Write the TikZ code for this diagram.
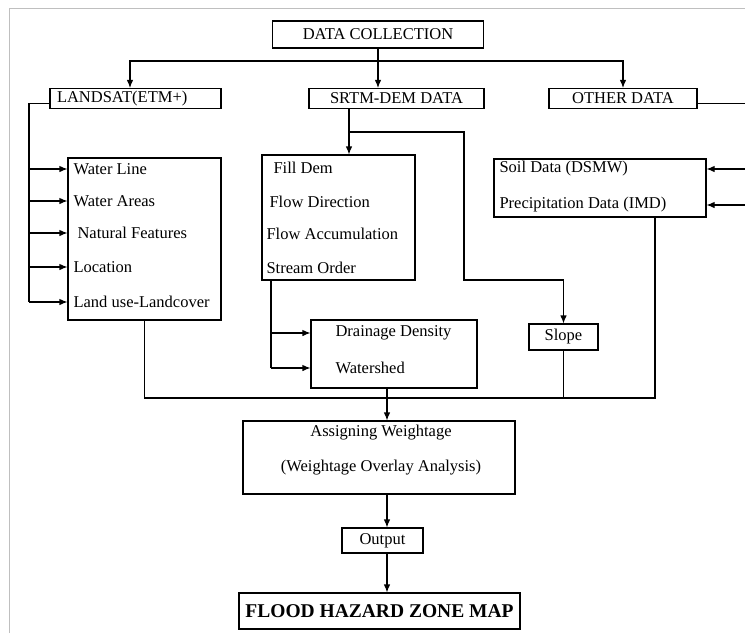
\documentclass[tikz,border=0pt]{standalone}
\usepackage{fontspec}
\setmainfont{Liberation Serif}
\usepackage{tikz}
\usetikzlibrary{positioning,arrows.meta,calc}

\begin{document}
\begin{tikzpicture}[x=1pt, y=-1pt, line width=1.1pt,
    >={Latex[length=8pt,width=6.5pt]},
    every node/.style={font=\fontsize{16.5}{19}\selectfont},
    box/.style={draw, inner sep=0pt},
    entry/.style={anchor=west, inner sep=0pt}]
  \useasboundingbox (0,0) rectangle (745,633);
  \draw[black!25, line width=0.6pt] (9,633) -- (9,8) -- (745,8);

  % sources
  \node[box, minimum width=211pt, minimum height=27pt] (datacol) at (378,34.5) {DATA COLLECTION};
  \node[box, minimum height=20pt, text width=157pt, inner xsep=7pt, align=left, text depth=3pt]
        (landsat) at (135.5,98.5) {LANDSAT(ETM+)};
  \node[box, minimum width=175pt, minimum height=20pt] (srtm) at (396.5,98.5) {SRTM-DEM DATA};
  \node[box, minimum width=148pt, minimum height=20pt] (other) at (623,98.5) {OTHER DATA};

  % landsat layers
  \node[box, minimum width=153pt, minimum height=162pt] (lsbox) at (144.5,239) {};
  \node[entry] (wl) at (73,169) {Water Line};
  \node[entry] (wa) at (73,201) {Water Areas};
  \node[entry] (nf) at (77,233) {Natural Features};
  \node[entry] (loc) at (73,267) {Location};
  \node[entry] (lu) at (73,302) {Land use-Landcover};

  % dem products
  \node[box, minimum width=153pt, minimum height=125pt] (fill) at (338.5,217.5) {};
  \node[entry] (fd) at (273,168) {Fill Dem};
  \node[entry] (fdir) at (269,202) {Flow Direction};
  \node[entry] (facc) at (266,234) {Flow Accumulation};
  \node[entry] (so) at (266,268) {Stream Order};

  \node[box, minimum width=166pt, minimum height=68pt] (drain) at (394,354) {};
  \node[entry] (dd) at (335,333) {Drainage Density};
  \node[entry] (ws) at (335,368) {Watershed};
  \node[box, minimum width=69pt, minimum height=26pt] (slope) at (563.5,337) {Slope};

  % other data
  \node[box, minimum width=212pt, minimum height=58pt] (soil) at (600,188) {};
  \node[entry] (sd) at (499,169) {Soil Data (DSMW)};
  \node[entry] (pd) at (499,205) {Precipitation Data (IMD)};

  % overlay and result
  \node[box, minimum width=272pt, minimum height=73pt] (assign) at (379,457.5) {};
  \node (aw) at (381,433) {Assigning Weightage};
  \node (wo) at (381,468) {(Weightage Overlay Analysis)};
  \node[box, minimum width=81pt, minimum height=25pt] (out) at (382.5,540.5) {Output};
  \node[box, minimum width=281pt, minimum height=36pt,
        font=\bfseries\fontsize{19.5}{22}\selectfont] (flood) at (379.5,611) {FLOOD HAZARD ZONE MAP};

  % connectors
  \coordinate (bus) at (378,61);
  \draw (datacol) -- (bus);
  \draw[->] (bus) -- (bus |- srtm.north);
  \draw[->] (bus) -| ([xshift=-5.5pt]landsat.north);
  \draw[->] (bus) -| (other.north);

  \coordinate (lsrail) at (29,302);
  \draw ([yshift=-5pt]landsat.west) -| (lsrail);
  \foreach \e in {wl,wa,nf,loc,lu}
    \draw[->] (lsrail |- \e) -- (lsbox.west |- \e);

  \coordinate (split) at (349,132);
  \coordinate (bend) at (464,280);
  \draw (split |- srtm.south) -- (split);
  \draw[->] (split) -- (split |- fill.north);
  \draw[->] (split) -| (bend) -| (slope.north);

  \coordinate (frail) at (271,368);
  \draw (frail |- fill.south) -- (frail);
  \draw[->] (frail |- dd) -- (drain.west |- dd);
  \draw[->] (frail) -- (drain.west |- ws);

  \coordinate (orail) at (748,205);
  \draw ([yshift=-5pt]other.east) -| (orail);
  \draw[->] (orail |- sd) -- (soil.east |- sd);
  \draw[->] (orail) -- (soil.east |- pd);

  \coordinate (merge) at (387,398);
  \draw (lsbox.south) |- (merge);
  \draw (slope.south) |- (merge);
  \draw ([xshift=55pt]soil.south) |- (merge);
  \draw[->] (merge |- drain.south) -- (merge |- assign.north);
  \draw[->] (merge |- assign.south) -- (merge |- out.north);
  \draw[->] (merge |- out.south) -- (merge |- flood.north);
\end{tikzpicture}
\end{document}
